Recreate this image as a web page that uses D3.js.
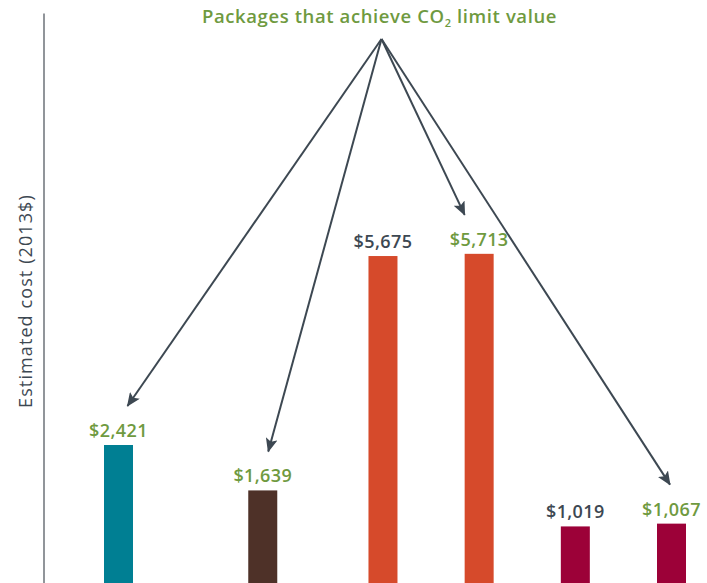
<!DOCTYPE html>
<html>
<head>
<meta charset="utf-8">
<script src="https://cdn.jsdelivr.net/npm/d3@7"></script>
<style>
  body { margin: 0; background: #fff; }
  svg { display: block; font-family: "Open Sans", sans-serif; }
</style>
</head>
<body>
<div id="viz"></div>
<script>
// bar data
const packages = ["A", "B", "C1", "C2", "D1", "D2"];
const costs = [2421, 1639, 5675, 5713, 1019, 1067];
const slots = [0, 6, 11, 15, 19, 23];          // horizontal slot of each bar
const barColors = ["#007f93", "#4e3128", "#d64a2b", "#d64a2b", "#9c0138", "#9c0138"];
const meetsLimit = [true, true, false, true, false, true];
const titleText = ["Packages that achieve CO", "2", " limit value"];
const yLabel = "Estimated cost (2013$)";

const width = 707, height = 583;
const green = "#6f9a3f", dark = "#3d4852";

const svg = d3.select("#viz")
  .append("svg")
  .attr("width", width)
  .attr("height", height);

const x = d3.scaleLinear().domain([0, 23]).range([118.5, 671.5]);
const y = d3.scaleLinear().domain([0, 9860]).range([585.6, 13]);
const barW = 29;

// axis line only
svg.append("g")
  .attr("transform", "translate(43.5,0)")
  .call(d3.axisLeft(y).ticks(0).tickSizeOuter(0))
  .call(g => g.select(".domain").attr("stroke", "#6d7278").attr("stroke-width", 1.5));

svg.append("text")
  .attr("transform", `translate(32,${301}) rotate(-90)`)
  .attr("text-anchor", "middle")
  .attr("fill", dark)
  .style("font-size", "18px")
  .style("letter-spacing", "1.1px")
  .text(yLabel);

const data = packages.map((p, i) => ({
  name: p, cost: costs[i], slot: slots[i], color: barColors[i], ok: meetsLimit[i]
}));

svg.selectAll("rect.bar")
  .data(data)
  .enter().append("rect")
  .attr("class", "bar")
  .attr("x", d => x(d.slot) - barW / 2)
  .attr("width", barW)
  .attr("y", d => y(d.cost))
  .attr("height", d => y(0) - y(d.cost))
  .attr("fill", d => d.color);

svg.selectAll("text.val")
  .data(data)
  .enter().append("text")
  .attr("class", "val")
  .attr("x", d => x(d.slot))
  .attr("y", d => y(d.cost) - 8)
  .attr("text-anchor", "middle")
  .attr("fill", d => d.ok ? green : dark)
  .style("font-size", "18px")
  .style("font-weight", 600)
  .style("letter-spacing", "0.4px")
  .text(d => "$" + d3.format(",")(d.cost));

// title
const title = svg.append("text")
  .attr("x", 379.5)
  .attr("y", 23)
  .attr("text-anchor", "middle")
  .attr("fill", green)
  .style("font-size", "18.5px")
  .style("font-weight", 600)
  .style("letter-spacing", "0.6px");
title.append("tspan").text(titleText[0]);
title.append("tspan").attr("dy", 4).style("font-size", "11px").text(titleText[1]);
title.append("tspan").attr("dy", -4).text(titleText[2]);

// arrows from the title to the packages that meet the limit
svg.append("defs").append("marker")
  .attr("id", "head")
  .attr("viewBox", "0 0 14 12")
  .attr("refX", 13)
  .attr("refY", 6)
  .attr("markerWidth", 14)
  .attr("markerHeight", 12)
  .attr("markerUnits", "userSpaceOnUse")
  .attr("orient", "auto")
  .append("path")
  .attr("d", "M0,0 L14,6 L0,12 L3,6 Z")
  .attr("fill", dark);

const apex = [381.5, 39];
const arrows = [
  { i: 0, dx: 9 },
  { i: 1, dx: 5.5 },
  { i: 3, dx: -14.5 },
  { i: 5, dx: -1.5 }
];

svg.selectAll("line.arrow")
  .data(arrows)
  .enter().append("line")
  .attr("class", "arrow")
  .attr("x1", apex[0])
  .attr("y1", apex[1])
  .attr("x2", a => x(data[a.i].slot) + a.dx)
  .attr("y2", a => y(data[a.i].cost) - 39)
  .attr("stroke", dark)
  .attr("stroke-width", 2)
  .attr("marker-end", "url(#head)");
</script>
</body>
</html>
